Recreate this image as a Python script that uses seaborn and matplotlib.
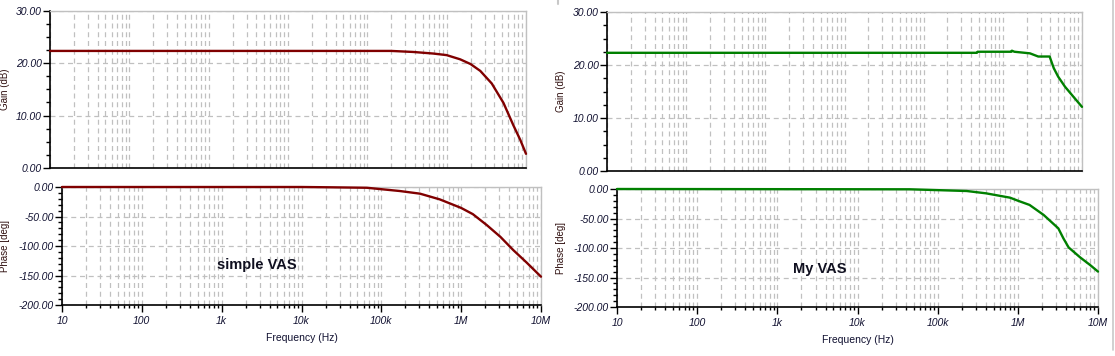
import numpy as np
import matplotlib
matplotlib.use("Agg")
import matplotlib.pyplot as plt
import matplotlib.ticker as mticker
from matplotlib.lines import Line2D
import seaborn as sns

# gain / phase traces
f_gain_simple = [10, 1e5, 2e5, 3.8e5, 6.8e5, 1e6, 1.48e6, 2e6, 2.65e6, 3.7e6, 5.2e6, 6.9e6, 8.5e6, 1e7]
gain_simple = [22.3, 22.3, 22.3, 22.1, 21.8, 21.5, 20.7, 19.8, 18.5, 16.1, 12.4, 8.2, 5.3, 2.7]

f_phase_simple = [10, 1e3, 1e4, 2.3e4, 6.6e4, 1.7e5, 3.05e5, 5.4e5, 1e6, 1.4e6, 2.1e6, 3.1e6, 4.5e6, 6.6e6, 1e7]
phase_simple = [0, 0, 0, -0.5, -1.3, -6.8, -11.3, -21, -35.5, -46, -64.7, -84.5, -107, -128, -152]

f_gain_my = [10, 4.7e5, 4.8e5, 1.28e6, 1.3e6, 1.4e6, 2.2e6, 2.8e6, 3.9e6, 4.4e6, 5e6, 6.1e6, 7.8e6, 1e7]
gain_my = [22.3, 22.3, 22.5, 22.5, 22.7, 22.5, 22.2, 21.6, 21.6, 19.4, 17.8, 15.9, 14.0, 12.1]

f_phase_my = [10, 4.5e4, 2.3e5, 4e5, 8e5, 1e6, 1.4e6, 2.1e6, 3.2e6, 3.7e6, 4.3e6, 6e6, 8e6, 1e7]
phase_my = [0, -0.5, -3.4, -7.3, -14.7, -19.8, -27, -44, -66.7, -83.6, -99, -116, -129, -140]

freq_ticks = [10, 100, 1e3, 1e4, 1e5, 1e6, 1e7]
freq_labels = ["10", "100", "1k", "10k", "100k", "1M", "10M"]

sns.set_style("white")
plt.rcParams['font.family'] = ['Liberation Sans', 'DejaVu Sans']

W, H = 1115, 356
fig = plt.figure(figsize=(W / 100, H / 100), dpi=100)


def rect(x0, y0, x1, y1):
    return [x0 / W, 1 - y1 / H, (x1 - x0) / W, (y1 - y0) / H]


def style_ax(ax, ylim, ymajor, yminor, ylabel, bottom):
    ax.set_xscale("log")
    ax.set_xlim(10, 1e7)
    ax.set_ylim(*ylim)
    ax.yaxis.set_major_locator(mticker.MultipleLocator(ymajor))
    ax.yaxis.set_minor_locator(mticker.MultipleLocator(yminor))
    ax.yaxis.set_major_formatter(mticker.FormatStrFormatter("%.2f"))
    ax.xaxis.set_major_locator(mticker.FixedLocator(freq_ticks))
    ax.xaxis.set_minor_locator(mticker.LogLocator(base=10, subs=np.arange(2, 10)))
    ax.grid(True, which="major", axis="both", color="#c0c0c0", ls=(0, (4, 3)), lw=0.9)
    ax.grid(True, which="minor", axis="x", color="#c0c0c0", ls=(0, (4, 3)), lw=0.9)
    for s in ["top", "right"]:
        ax.spines[s].set_color("#c0c0c0")
        ax.spines[s].set_linewidth(1.0)
    for s in ["left", "bottom"]:
        ax.spines[s].set_color("black")
        ax.spines[s].set_linewidth(1.2)
    ax.tick_params(axis="y", which="major", left=True, length=5, width=1, color="black",
                   labelsize=7.5, labelcolor="#101030", pad=1)
    ax.tick_params(axis="y", which="minor", left=True, length=3, width=1, color="black")
    for t in ax.get_yticklabels():
        t.set_fontstyle("italic")
    ax.set_ylabel(ylabel, fontsize=7, color="#301010", labelpad=4)
    if bottom:
        ax.set_xticks(freq_ticks)
        ax.set_xticklabels(freq_labels, fontsize=7.5, style="italic", color="#101030")
        ax.tick_params(axis="x", which="major", bottom=True, length=5, width=1, color="black", pad=3)
        ax.tick_params(axis="x", which="minor", bottom=True, length=2.5, width=1, color="black")
        ax.set_xlabel("Frequency (Hz)", fontsize=7.5, color="#101030", labelpad=5)
    else:
        ax.tick_params(axis="x", which="both", bottom=False, labelbottom=False)
        ax.set_xlabel("")


panels = [
    (rect(50, 10.5, 526, 168), f_gain_simple, gain_simple, "#800000", (0, 30), 10, 2.5, "Gain (dB)", False),
    (rect(62, 187, 541, 305), f_phase_simple, phase_simple, "#800000", (-200, 0), 50, 10, "Phase [deg]", True),
    (rect(607, 12, 1082, 171), f_gain_my, gain_my, "#008000", (0, 30), 10, 2.5, "Gain (dB)", False),
    (rect(617, 189, 1098, 307), f_phase_my, phase_my, "#008000", (-200, 0), 50, 10, "Phase [deg]", True),
]

axes = []
for r, fx, fy, col, ylim, maj, mnr, lab, bottom in panels:
    ax = fig.add_axes(r)
    sns.lineplot(x=fx, y=fy, ax=ax, color=col, lw=1.7, clip_on=False, zorder=5)
    style_ax(ax, ylim, maj, mnr, lab, bottom)
    axes.append(ax)

# align y labels roughly like the screenshots
for ax, xpix in zip(axes, [10, 10, 566, 566]):
    pos = ax.get_position()
    ax.yaxis.set_label_coords((xpix - pos.x0 * W) / (pos.width * W), 0.5)

axes[1].text(2760, -132, "simple VAS", fontsize=10.5, fontweight="bold", ha="center", va="center", color="#101020")
axes[3].text(3400, -135, "My VAS", fontsize=10.5, fontweight="bold", ha="center", va="center", color="#101020")

# screenshot borders
fig.add_artist(Line2D([1113 / W, 1113 / W], [1 - 350 / H, 1], color="#c8c8c8", lw=1.2))
fig.add_artist(Line2D([558 / W, 558 / W], [1 - 4 / H, 1], color="#c8c8c8", lw=1.5))

fig.savefig("out.png", dpi=100)
